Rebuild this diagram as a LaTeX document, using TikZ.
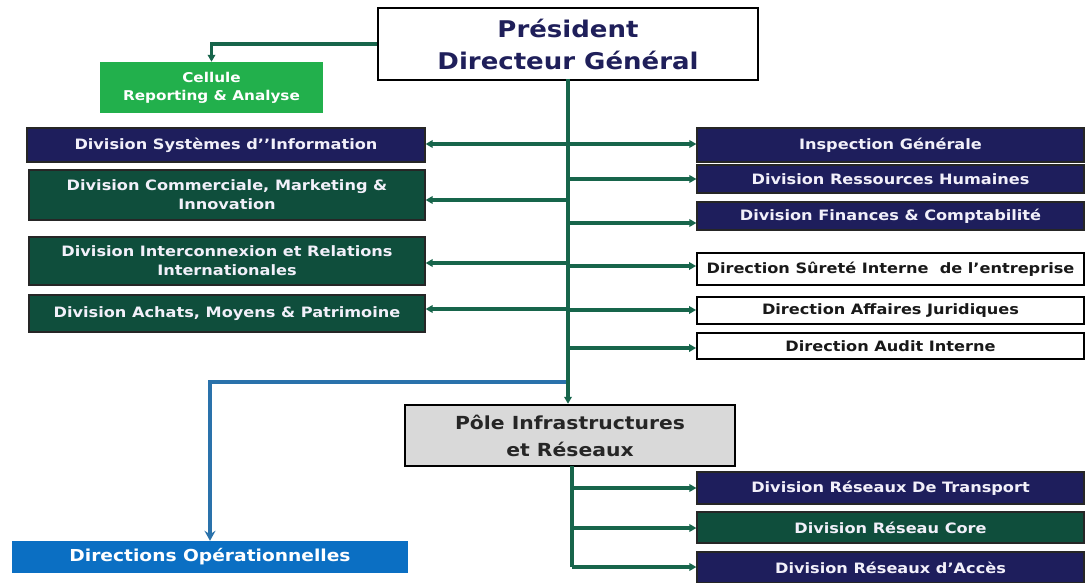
\documentclass[tikz,border=0pt]{standalone}
\usepackage{fontspec}
\setmainfont{DejaVu Sans}
\newfontfamily\widefont[FakeStretch=1.13]{DejaVu Sans}
\usetikzlibrary{arrows.meta}
\definecolor{navy}{HTML}{1E1E5C}
\definecolor{dgreen}{HTML}{0F4E3C}
\definecolor{lgreen}{HTML}{22B04C}
\definecolor{cgreen}{HTML}{17654B}
\definecolor{opblue}{HTML}{0B6FC3}
\definecolor{lnblue}{HTML}{2A72AB}
\definecolor{pgray}{HTML}{D9D9D9}
\definecolor{pdgtext}{HTML}{1F1F5A}
\definecolor{boxtext}{HTML}{F2F0FA}

\begin{document}
\begin{tikzpicture}[x=1pt,y=-1pt,
  every node/.style={inner sep=0pt, align=center},
  unit/.style={rectangle, font=\widefont\bfseries\fontsize{14.3}{19}\selectfont},
  navybox/.style={unit, fill=navy, draw=black!85, line width=1.2pt, text=boxtext},
  greenbox/.style={unit, fill=dgreen, draw=black!85, line width=1.2pt, text=boxtext},
  whitebox/.style={unit, fill=white, draw=black, line width=1.8pt, text=black!90},
  conn/.style={draw=cgreen, line width=3.2pt, -{Triangle[length=7pt,width=7.5pt]}},
  blueconn/.style={draw=lnblue, line width=3.2pt, -{Stealth[length=10pt,width=11pt,inset=3.5pt]}}
]
\useasboundingbox (0,0) rectangle (1085,583);
\fill[white] (0,0) rectangle (1085,583);

% head of the organisation
\node[draw=black, line width=2pt, fill=white, minimum width=380pt, minimum height=72pt,
      font=\widefont\bfseries\fontsize{23}{32}\selectfont, text=pdgtext] (pdg) at (568,44)
      {Président\\Directeur Général};

\node[fill=lgreen, text=white, minimum width=223pt, minimum height=51pt,
      font=\widefont\bfseries\fontsize{13.5}{18}\selectfont] (cell) at (211.5,87.5)
      {Cellule\\Reporting \& Analyse};

% divisions on the left
\node[navybox, minimum width=398pt, minimum height=34pt] (sysinfo) at (226,145)
      {Division Systèmes d’’Information};
\node[greenbox, minimum width=396pt, minimum height=50pt] (comm) at (227,195)
      {Division Commerciale, Marketing \&\\Innovation};
\node[greenbox, minimum width=396pt, minimum height=48pt] (inter) at (227,261)
      {Division Interconnexion et Relations\\Internationales};
\node[greenbox, minimum width=396pt, minimum height=37pt] (achats) at (227,313.5)
      {Division Achats, Moyens \& Patrimoine};

% divisions and directions on the right
\node[navybox, minimum width=387pt, minimum height=34pt] (insp) at (890.5,145)
      {Inspection Générale};
\node[navybox, minimum width=387pt, minimum height=28pt] (rh) at (890.5,179)
      {Division Ressources Humaines};
\node[navybox, minimum width=387pt, minimum height=28pt] (fin) at (890.5,216)
      {Division Finances \& Comptabilité};
\node[whitebox, minimum width=387pt, minimum height=32pt] (surete) at (890.5,269)
      {Direction Sûreté Interne\ \ de l’entreprise};
\node[whitebox, minimum width=387pt, minimum height=27pt] (jur) at (890.5,310.5)
      {Direction Affaires Juridiques};
\node[whitebox, minimum width=387pt, minimum height=26pt] (audit) at (890.5,346)
      {Direction Audit Interne};

% infrastructure pole and its divisions
\node[draw=black, line width=2.4pt, fill=pgray, minimum width=330pt, minimum height=61pt,
      font=\widefont\bfseries\fontsize{18}{27}\selectfont, text=black!85] (pole) at (570,435.5)
      {Pôle Infrastructures\\et Réseaux};
\node[navybox, minimum width=387pt, minimum height=32pt] (trans) at (890.5,488)
      {Division Réseaux De Transport};
\node[greenbox, minimum width=387pt, minimum height=31pt] (core) at (890.5,527.5)
      {Division Réseau Core};
\node[navybox, minimum width=387pt, minimum height=31pt] (acces) at (890.5,567.5)
      {Division Réseaux d’Accès};

\node[fill=opblue, text=white, minimum width=396pt, minimum height=32pt,
      font=\widefont\bfseries\fontsize{16.5}{20}\selectfont] (dirop) at (210,557)
      {Directions Opérationnelles};

% branch points on the main trunk
\coordinate (t0) at (568,79);
\coordinate (l1) at (568,144);
\coordinate (l2) at (568,200);
\coordinate (l3) at (568,263);
\coordinate (l4) at (568,309);
\coordinate (r1) at (568,144);
\coordinate (r2) at (568,179);
\coordinate (r3) at (568,223);
\coordinate (r4) at (568,266);
\coordinate (r5) at (568,310);
\coordinate (r6) at (568,348);
\coordinate (bl) at (568,382);
% branch points below the pole
\coordinate (p0) at (572,466);
\coordinate (p1) at (572,488);
\coordinate (p2) at (572,528);
\coordinate (p3) at (572,567);

% connectors
\draw[conn] (pdg.west) -| (cell.north);
\draw[blueconn] (bl) -| (dirop.north);
\draw[conn] (t0) -- (t0 |- pole.north);

\draw[conn] (l1) -- (l1 -| sysinfo.east);
\draw[conn] (l2) -- (l2 -| comm.east);
\draw[conn] (l3) -- (l3 -| inter.east);
\draw[conn] (l4) -- (l4 -| achats.east);

\draw[conn] (r1) -- (r1 -| insp.west);
\draw[conn] (r2) -- (r2 -| rh.west);
\draw[conn] (r3) -- (r3 -| fin.west);
\draw[conn] (r4) -- (r4 -| surete.west);
\draw[conn] (r5) -- (r5 -| jur.west);
\draw[conn] (r6) -- (r6 -| audit.west);

\draw[draw=cgreen, line width=3.2pt] (p0) -- (p3);
\draw[conn] (p1) -- (p1 -| trans.west);
\draw[conn] (p2) -- (p2 -| core.west);
\draw[conn] (p3) -- (p3 -| acces.west);
\end{tikzpicture}
\end{document}
